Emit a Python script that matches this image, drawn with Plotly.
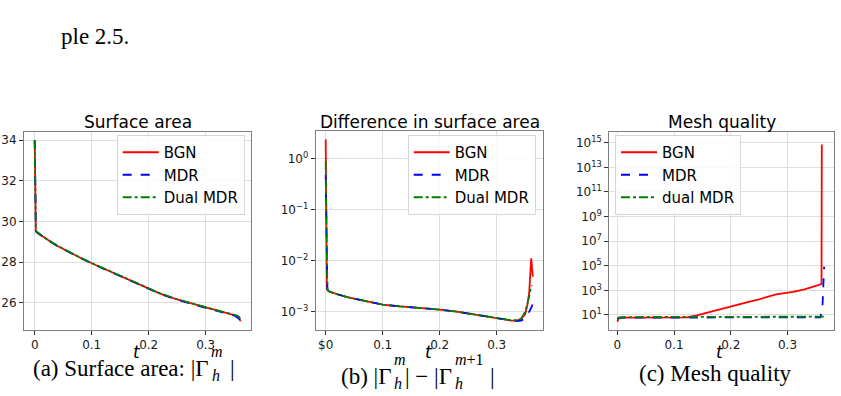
import plotly.graph_objects as go

W, H = 841, 396


def px(x):
    return x / W


def py(y):
    return 1 - y / H


# ---------------- data ----------------
# (a) surface area
t_area = [0, 0.001, 0.002, 0.01, 0.02, 0.04, 0.06, 0.08, 0.10, 0.12, 0.15, 0.18, 0.20,
          0.22, 0.25, 0.27, 0.30, 0.32, 0.34, 0.35, 0.355, 0.358, 0.361]
area_bgn = [34.0, 29.6, 29.52, 29.35, 29.15, 28.8, 28.5, 28.22, 27.95, 27.7, 27.3, 26.92, 26.68,
            26.46, 26.17, 26.0, 25.78, 25.63, 25.49, 25.42, 25.36, 25.3, 25.1]
area_mdr = [34.0, 29.6, 29.51, 29.34, 29.14, 28.79, 28.49, 28.21, 27.94, 27.69, 27.29, 26.91, 26.67,
            26.45, 26.16, 25.99, 25.76, 25.61, 25.46, 25.38, 25.3, 25.22, 25.15]
area_dual = [34.0, 29.6, 29.53, 29.36, 29.16, 28.81, 28.51, 28.23, 27.96, 27.71, 27.31, 26.93, 26.69,
             26.47, 26.18, 26.01, 25.79, 25.64, 25.5, 25.44, 25.38, 25.33, 25.22]

# (b) difference in surface area
t_diff_bgn = [0, 0.0005, 0.001, 0.0015, 0.002, 0.003, 0.006, 0.01, 0.02, 0.04, 0.06, 0.08, 0.10,
              0.13, 0.16, 0.20, 0.23, 0.26, 0.29, 0.31, 0.325, 0.335, 0.343, 0.35, 0.354, 0.357,
              0.359, 0.3605, 0.362, 0.3635]
diff_bgn = [2.43, 0.3, 0.04, 0.008, 0.0035, 0.0027, 0.0025, 0.0024, 0.0022, 0.0019, 0.0017, 0.00152,
            0.00138, 0.00127, 0.0012, 0.0011, 0.001, 0.00088, 0.00077, 0.00071, 0.00067, 0.00067,
            0.00072, 0.0009, 0.0014, 0.0024, 0.005, 0.0112, 0.007, 0.0049]
t_diff_mdr = [0, 0.0005, 0.001, 0.0015, 0.002, 0.003, 0.006, 0.01, 0.02, 0.04, 0.06, 0.08, 0.10,
              0.13, 0.16, 0.20, 0.23, 0.26, 0.29, 0.31, 0.325, 0.335, 0.343, 0.35, 0.355, 0.359,
              0.362, 0.364]
diff_mdr = [0.5, 0.12, 0.03, 0.007, 0.0034, 0.0027, 0.0025, 0.0024, 0.0022, 0.0019, 0.0017, 0.00152,
            0.00138, 0.00127, 0.0012, 0.0011, 0.001, 0.00088, 0.00077, 0.0007, 0.00066, 0.00065,
            0.00067, 0.00074, 0.0009, 0.0011, 0.0013, 0.0016]
t_diff_dual = [0, 0.0005, 0.001, 0.0015, 0.002, 0.003, 0.006, 0.01, 0.02, 0.04, 0.06, 0.08, 0.10,
               0.13, 0.16, 0.20, 0.23, 0.26, 0.29, 0.31, 0.325, 0.335, 0.343, 0.35, 0.354, 0.357,
               0.359, 0.3614]
diff_dual = [0.89, 0.2, 0.035, 0.0075, 0.0035, 0.0027, 0.0025, 0.0024, 0.0022, 0.0019, 0.0017,
             0.00152, 0.00138, 0.00127, 0.0012, 0.0011, 0.001, 0.00089, 0.00078, 0.00072, 0.00068,
             0.00068, 0.00073, 0.001, 0.0014, 0.002, 0.0026, 0.0033]

# (c) mesh quality
t_mesh_bgn = [0, 0.003, 0.01, 0.05, 0.10, 0.122, 0.14, 0.169, 0.20, 0.23, 0.25, 0.28, 0.31, 0.33,
              0.36, 0.3605]
mesh_bgn = [2.9, 5.5, 6.0, 6.2, 6.3, 6.4, 9.5, 20, 50, 110, 190, 480, 750, 1200, 3200, 7.4e14]
t_mesh_mdr = [0, 0.003, 0.01, 0.1, 0.2, 0.3, 0.358, 0.3615, 0.3635, 0.3646]
mesh_mdr = [4.5, 5.8, 6.2, 6.3, 6.3, 6.3, 6.4, 30, 2000, 8.5e4]
t_mesh_dual = [0, 0.003, 0.01, 0.1, 0.2, 0.3, 0.364]
mesh_dual = [5.0, 6.5, 6.8, 7.0, 7.0, 7.1, 7.3]

x_ticks = [0, 0.1, 0.2, 0.3]
x_ticktext_a = ["0", "0.1", "0.2", "0.3"]
x_ticktext_b = ["$0", "0.1", "0.2", "0.3"]
y_ticks_a = [26, 28, 30, 32, 34]
y_ticks_b = [1e-3, 1e-2, 1e-1, 1]
y_ticktext_b = ["10<sup>−3</sup>", "10<sup>−2</sup>", "10<sup>−1</sup>", "10<sup>0</sup>"]
y_exp_c = [1, 3, 5, 7, 9, 11, 13, 15]

names_ab = ["BGN", "MDR", "Dual MDR"]
names_c = ["BGN", "MDR", "dual MDR"]

# ---------------- styles ----------------
RED = "#ff0000"
BLUE = "#0000ff"
GREEN = "#008000"
LW = 1.8
styles = [dict(color=RED, width=LW, dash="solid"),
          dict(color=BLUE, width=LW, dash="dash"),
          dict(color=GREEN, width=LW, dash="dashdot")]

fig = go.Figure()

panels = [
    ("x", "y", "legend", names_ab,
     [(t_area, area_bgn), (t_area, area_mdr), (t_area, area_dual)]),
    ("x2", "y2", "legend2", names_ab,
     [(t_diff_bgn, diff_bgn), (t_diff_mdr, diff_mdr), (t_diff_dual, diff_dual)]),
    ("x3", "y3", "legend3", names_c,
     [(t_mesh_bgn, mesh_bgn), (t_mesh_mdr, mesh_mdr), (t_mesh_dual, mesh_dual)]),
]
for xa, ya_, lg, names, series in panels:
    for (tx, vy), nm, st in zip(series, names, styles):
        fig.add_trace(go.Scatter(x=tx, y=vy, mode="lines", name=nm, line=st,
                                 xaxis=xa, yaxis=ya_, legend=lg))

GRID = "#dedede"
FRAME = "#808080"
TICKFONT = dict(family="DejaVu Sans", size=12, color="#1a1a1a")

common_x = dict(showgrid=True, gridcolor=GRID, gridwidth=1, zeroline=False,
                showline=True, linecolor=FRAME, linewidth=1, mirror=True,
                ticks="outside", ticklen=4, tickcolor="#333", tickfont=TICKFONT,
                tickvals=x_ticks)
common_y = dict(showgrid=True, gridcolor=GRID, gridwidth=1, zeroline=False,
                showline=True, linecolor=FRAME, linewidth=1, mirror=True,
                ticks="outside", ticklen=4, tickcolor="#333", tickfont=TICKFONT)

fig.update_layout(
    width=W, height=H, autosize=False,
    margin=dict(l=0, r=0, t=0, b=0),
    paper_bgcolor="white", plot_bgcolor="white",
    font=dict(family="DejaVu Sans", color="black"),
    xaxis=dict(common_x, domain=[px(24), px(251)], range=[-0.0188, 0.3795],
               ticktext=x_ticktext_a, anchor="y"),
    yaxis=dict(common_y, domain=[py(330), py(132)], range=[24.67, 34.4],
               tickvals=y_ticks_a, anchor="x"),
    xaxis2=dict(common_x, domain=[px(315.7), px(543.3)], range=[-0.0175, 0.3817],
                ticktext=x_ticktext_b, anchor="y2"),
    yaxis2=dict(common_y, type="log", domain=[py(330), py(131)], range=[-3.36, 0.55],
                tickvals=y_ticks_b, ticktext=y_ticktext_b, anchor="x2"),
    xaxis3=dict(common_x, domain=[px(609.3), px(834)], range=[-0.0141, 0.382],
                ticktext=x_ticktext_a, anchor="y3"),
    yaxis3=dict(common_y, type="log", domain=[py(330), py(131.7)], range=[-0.22, 15.9],
                tickvals=[10 ** e for e in y_exp_c],
                ticktext=["10<sup>%d</sup>" % e for e in y_exp_c], anchor="x3"),
)

LEGFONT = dict(family="DejaVu Sans", size=15, color="black")
legend_common = dict(font=LEGFONT, bgcolor="rgba(255,255,255,0.85)", bordercolor="#d5d5d5",
                     borderwidth=1, xanchor="left", yanchor="top", tracegroupgap=0,
                     itemwidth=36)
fig.update_layout(
    legend=dict(legend_common, x=px(116.7), y=py(135)),
    legend2=dict(legend_common, x=px(407.7), y=py(135)),
    legend3=dict(legend_common, x=px(615), y=py(135)),
)

ann = []
# titles
for cx, txt in [(137.5, "Surface area"), (429.5, "Difference in surface area"),
                (721.7, "Mesh quality")]:
    ann.append(dict(x=px(cx), y=py(121.5), text=txt, showarrow=False, xanchor="center",
                    xref="paper", yref="paper",
                    yanchor="middle", font=dict(family="DejaVu Sans", size=17, color="black")))
# axis labels
for cx in [136.7, 429, 720]:
    ann.append(dict(x=px(cx), y=py(352), text="<i>t</i>", showarrow=False, xanchor="center",
                    xref="paper", yref="paper",
                    yanchor="middle", font=dict(family="DejaVu Sans", size=17, color="black")))

SERIF = "Liberation Serif"
CAP = dict(family=SERIF, size=23, color="black")
SCR = dict(family=SERIF, size=16, color="black")


def piece(x, y, text, font, anchor):
    ann.append(dict(x=px(x), y=py(y), text=text, showarrow=False, xanchor=anchor,
                    xref="paper", yref="paper",
                    yanchor="middle", font=font, borderpad=0))


SUP = -17
SUB = 7

# caption (a)
ya = 368.3
piece(209.5, ya, "(a) Surface area: |Γ", CAP, "right")
piece(210, ya + SUP, "<i>m</i>", SCR, "left")
piece(210.5, ya + SUB, "<i>h</i>", SCR, "left")
piece(229, ya, "|", CAP, "left")

# caption (b)
yb = 376.5
piece(392, yb, "(b) |Γ", CAP, "right")
piece(392.5, yb + SUP, "<i>m</i>", SCR, "left")
piece(393, yb + SUB, "<i>h</i>", SCR, "left")
piece(453, yb, "| − |Γ", CAP, "right")
piece(453.5, yb + SUP, "<i>m</i>+1", SCR, "left")
piece(454, yb + SUB, "<i>h</i>", SCR, "left")
piece(489, yb, "|", CAP, "left")

# caption (c)
piece(715.3, 373, "(c) Mesh quality", CAP, "center")

# page text above
piece(60, 36, "ple 2.5.", CAP, "left")

fig.update_layout(annotations=ann)

fig.write_html("out.html")
